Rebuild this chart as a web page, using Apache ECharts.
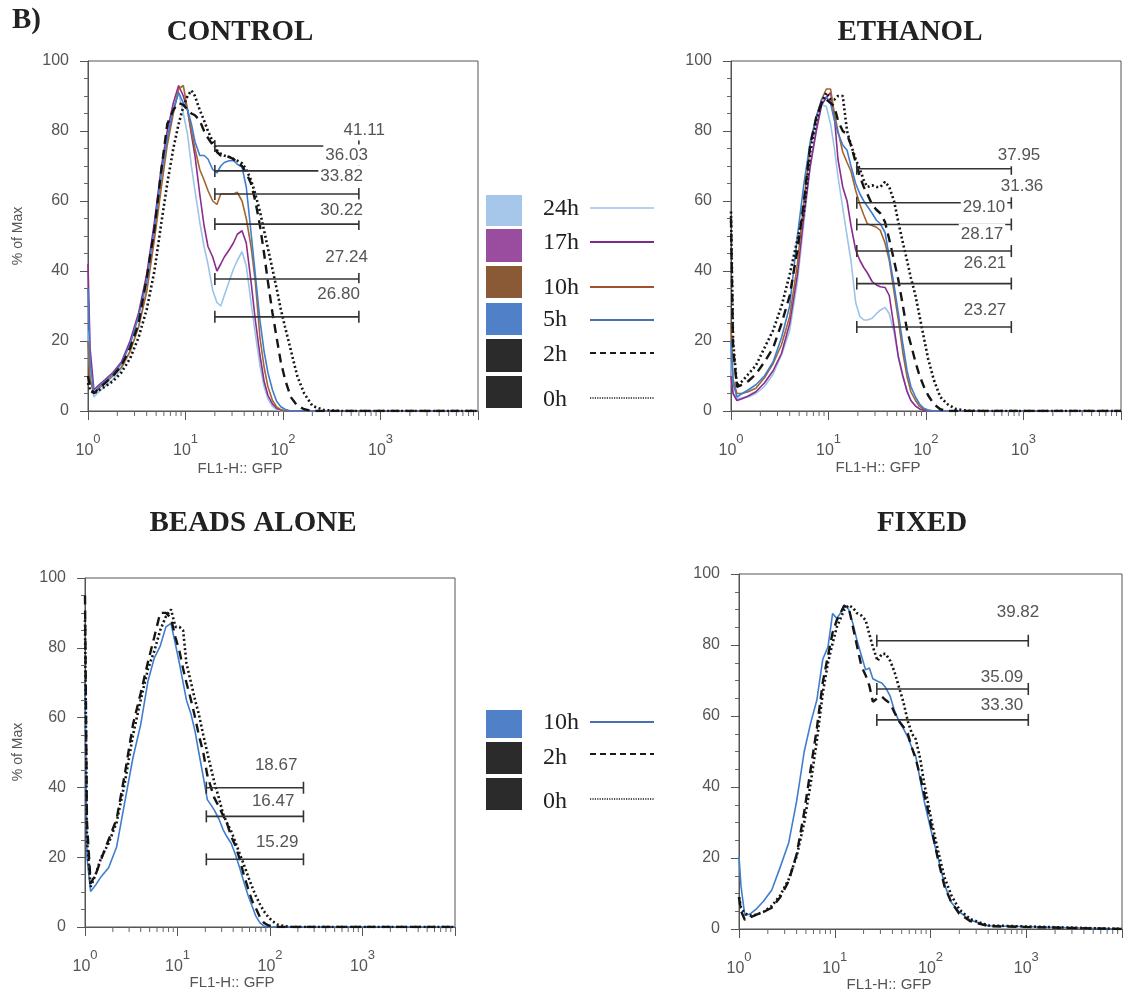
<!DOCTYPE html>
<html><head><meta charset="utf-8">
<script src="https://cdn.jsdelivr.net/npm/echarts@6/dist/echarts.min.js"></script>
<style>html,body{margin:0;padding:0;background:#fff}#c{width:1125px;height:999px}</style>
</head><body><div id="c"></div>
<script>
// ---------- DATA ----------
// Fluorescence (FL1-H: GFP) sampling positions shared by all histograms
const xGrid = [1, 1.05, 1.15, 1.3, 1.5, 1.8, 2.2, 2.7, 3.3, 4, 4.8, 5.6, 6.5, 7.5, 8.5, 9.5, 10.5, 11.5, 12.5, 14, 15.5, 17, 19, 21, 23, 25, 28, 31, 34, 38, 42, 47, 52, 58, 64, 70, 78, 86, 95, 105, 120, 140, 165, 200, 260, 400, 10000];

// CONTROL (% of Max)
const ctrl24 = [23, 10, 4, 5.5, 7, 9, 12, 17, 24, 35, 50, 65, 77, 86, 91, 85, 79, 70, 63, 54, 47, 42, 34.5, 31, 30, 33, 37, 40.5, 43, 45.5, 41.5, 31, 22, 13, 7, 3.5, 1.3, 0.4, 0, 0, 0, 0, 0, 0, 0, 0, 0];
const ctrl17 = [42, 18, 6, 7.5, 9, 11, 14, 20, 28, 39, 54, 69, 80, 88, 93, 90, 86, 79, 73, 62, 53, 47, 44, 40, 42, 44, 46, 48, 50.5, 51.5, 48, 37, 26, 16, 8.5, 4.5, 2, 0.8, 0.3, 0, 0, 0, 0, 0, 0, 0, 0];
const ctrl10 = [20, 9, 5, 6.5, 8, 10, 12.5, 17, 24, 34, 49, 63, 76, 85, 92, 93, 86, 80, 75, 69, 66, 63, 60, 59, 62, 62, 62, 62, 62.5, 60, 55, 47, 37, 21, 12.5, 7, 3, 1.2, 0.4, 0, 0, 0, 0, 0, 0, 0, 0];
const ctrl5 = [35, 14, 5, 7, 8.5, 10.5, 13.5, 19, 27, 37, 52, 67, 78, 86, 91, 88, 86, 82, 77, 73, 73, 72, 69, 68, 70, 71, 71.5, 71.6, 70.5, 69.7, 64, 51, 39, 26, 17, 11, 6, 2.8, 1.2, 0.5, 0, 0, 0, 0, 0, 0, 0];
const ctrl2 = [10, 7, 5, 6.5, 8, 10, 13, 18, 25, 38, 52, 68, 82, 86, 88, 87.5, 86, 85, 84.5, 83, 80, 78, 76, 74, 73, 72.8, 72.6, 72, 71, 70, 68, 65, 60, 53, 45, 37, 28, 21, 14, 9, 4, 1.5, 0.5, 0, 0, 0, 0];
const ctrl0 = [8, 6, 5, 6, 7, 8.5, 11, 15, 21, 29, 40, 53, 65, 75, 82, 87, 90, 91.6, 90, 86, 83, 80, 77, 74.5, 73.5, 73, 72.6, 72, 71.5, 70.8, 69, 66, 62, 57, 51.5, 46.5, 40.5, 35, 29, 24, 17.5, 10, 5, 1.5, 0.3, 0, 0];

// ETHANOL
const eth24 = [14, 5, 3.5, 3.8, 4, 5, 7, 10.5, 16, 23, 37, 54, 70, 81, 87.5, 87, 82, 75, 67, 58, 50, 43, 31, 27, 26, 26, 26.5, 27.8, 28.8, 29.6, 27.8, 22.5, 15.5, 9.5, 5.9, 3, 1.5, 0.6, 0.2, 0, 0, 0, 0, 0, 0, 0, 0];
const eth17 = [10, 5, 3, 3.5, 4.3, 5.5, 8, 11.5, 16.5, 25, 39, 56, 70, 80, 87.5, 89.5, 91, 84, 72, 64, 60, 53, 46, 43, 41, 39.5, 37, 36, 35.5, 35.3, 33, 24, 15.5, 10, 5.5, 3, 1.4, 0.6, 0.2, 0, 0, 0, 0, 0, 0, 0, 0];
const eth10 = [25, 9, 5, 5, 5.5, 6.5, 9.5, 13.5, 19, 27, 42, 60, 76, 84, 89, 92, 92, 85, 80, 74, 71, 68.5, 63, 59, 56, 53.5, 53, 52.5, 51.6, 48, 43, 34, 26, 16.5, 9.7, 5.5, 3, 1.3, 0.5, 0.2, 0, 0, 0, 0, 0, 0, 0];
const eth5 = [20, 8, 4, 5, 6, 7.5, 10, 14, 21, 30, 50, 65, 77, 84, 89, 89.7, 88, 83, 79.5, 76, 74.5, 70, 65, 62, 60, 58.5, 56.5, 54.5, 53.5, 51, 44, 36, 28, 19, 11.5, 7, 4, 2, 0.8, 0.3, 0, 0, 0, 0, 0, 0, 0];
const eth2 = [55, 18, 6.9, 7.5, 8.5, 10.5, 14, 18, 25, 33, 46, 60, 76, 84, 88, 89, 88, 87, 83, 80, 79, 76, 71, 67, 64, 62, 59, 57.5, 56.5, 54, 49, 43, 37.5, 30, 23, 19, 14, 10, 7, 4.5, 2, 0.5, 0, 0, 0, 0, 0];
const eth0 = [57, 20, 7.3, 8.5, 10.5, 13, 18, 23, 30, 39, 49, 57, 74, 83, 88, 91, 89, 89, 90, 90, 80, 76, 72, 69, 66, 64, 64.5, 64, 64, 65.5, 64, 60, 54, 48, 43, 38, 33, 27, 21, 15, 9, 4, 2, 0.6, 0.1, 0, 0];

// BEADS ALONE
const bead10 = [70, 20, 10.2, 12, 14.5, 17, 23, 36, 48.5, 58, 70.5, 77, 80.5, 86, 87, 81, 75.5, 70, 65, 61, 56, 50, 43, 36.5, 35, 33.5, 31, 28, 26, 24, 21, 17, 13, 9, 6, 3.2, 1.2, 0.3, 0, 0, 0, 0, 0, 0, 0, 0, 0];
const bead2 = [95, 30, 12.5, 15, 19.5, 25, 31, 44, 58, 67, 76, 83, 90, 90, 88.5, 83, 79, 74, 70, 65, 60, 55, 50, 43.5, 40, 37, 34.5, 32, 30, 26, 23.5, 19.5, 15, 11, 7.5, 5.5, 2.8, 1.2, 0.5, 0.2, 0, 0, 0, 0, 0, 0, 0];
const bead0 = [88, 25, 11.5, 15, 20, 24, 30, 41.5, 55, 65, 74, 79, 85, 89, 91, 86, 86, 85, 75.5, 70, 65, 61, 55, 50, 45.5, 41.5, 37, 32.5, 30, 27.5, 24.5, 21, 18, 14.5, 11.5, 9, 6.5, 4.5, 3, 1.8, 0.7, 0.3, 0, 0, 0, 0, 0];

// FIXED
const fix10 = [20.4, 12, 3.8, 4.2, 5.5, 7.8, 11, 17.5, 24.2, 36, 50, 58, 64.5, 76, 79.5, 88.9, 87.5, 89, 91.3, 90, 86, 81.5, 77, 73, 73.5, 70.5, 69.8, 69.3, 68, 65.5, 61.5, 58.5, 56.5, 54, 51, 48.8, 42, 36, 31, 26, 20, 12.5, 7.5, 4.8, 2.5, 0.9, 0];
const fix2 = [9, 5, 2.6, 3.2, 4, 4.8, 6, 9, 13.5, 21, 33, 45, 56.5, 69.5, 77, 83.5, 87, 89, 91, 90.5, 85, 80, 74, 71.5, 68.5, 64, 65, 65.5, 64.5, 63.5, 61, 58.5, 57, 55, 51, 48, 43, 38, 33, 27, 19.5, 12, 7.5, 4.3, 2.2, 0.8, 0];
const fix0 = [9, 6, 4.4, 3.8, 4, 4.8, 6.5, 9.5, 14, 20.5, 30, 41, 53, 66.5, 75, 80.5, 85, 87.5, 89.8, 91.2, 90.5, 89, 88.3, 87, 83, 79.5, 75.5, 77.5, 77.5, 75.5, 72.5, 68, 64, 58.5, 55, 53.5, 48, 41, 35, 29, 22, 14.5, 9.5, 5.5, 2.8, 1, 0];

// Gates: [from, to] on FL1-H, level in % of Max, label
const ctrlGateRange = [20, 600];
const ctrlGateLevels = [75.7, 68.6, 62, 53.4, 37.7, 26.9];
const ctrlGateLabels = ['41.11', '36.03', '33.82', '30.22', '27.24', '26.80'];
const ethGateRange = [19.5, 750];
const ethGateLevels = [69.2, 59.5, 53.3, 45.7, 36.4, 24];
const ethGateLabels = ['37.95', '31.36', '29.10', '28.17', '26.21', '23.27'];
const beadGateRange = [20.5, 230];
const beadGateLevels = [39.9, 31.7, 19.4];
const beadGateLabels = ['18.67', '16.47', '15.29'];
const fixGateRange = [27.5, 1050];
const fixGateLevels = [81.2, 67.6, 58.9];
const fixGateLabels = ['39.82', '35.09', '33.30'];

// Axis tick labels
const yTickLabels = ['0', '20', '40', '60', '80', '100'];
const xTickExponents = ['0', '1', '2', '3'];

const panelTitles = ['CONTROL', 'ETHANOL', 'BEADS ALONE', 'FIXED'];
const legend1 = ['24h', '17h', '10h', '5h', '2h', '0h'];
const legend2 = ['10h', '2h', '0h'];

// ---------- STYLE ----------
const SANS = '"Liberation Sans", Arial, sans-serif';
const SERIF = '"Liberation Serif", "Times New Roman", serif';
const C = {
  h24: '#9cc3e8', h17: '#8b2c8e', h10: '#a4652e', h5: '#3f7dcf', blk: '#151515'
};
const styles = {
  '24h': {color: C.h24, width: 1.6, type: 'solid'},
  '17h': {color: C.h17, width: 1.6, type: 'solid'},
  '10h': {color: C.h10, width: 1.6, type: 'solid'},
  '5h':  {color: C.h5,  width: 1.6, type: 'solid'},
  '10hB': {color: C.h5, width: 1.6, type: 'solid'},
  '2h':  {color: C.blk, width: 2.4, type: [9, 6]},
  '0h':  {color: C.blk, width: 2.6, type: [2, 2.6]}
};
const grids = [
  {left: 88, top: 61, width: 390, height: 350},
  {left: 731, top: 61, width: 390, height: 350},
  {left: 85, top: 578, width: 370, height: 349},
  {left: 739, top: 574, width: 391, height: 355}
];
// pixel nudges [dx, dy] of each gate label relative to the gate's right end
const ctrlLabelNudge = [[28, -16], [11, -16], [6, -18], [6, -14], [11, -22], [3, -23]];
const ethLabelNudge = [[31, -13], [34, -16], [-4, -17], [-6, -17], [-3, -20], [-3, -17]];
const beadLabelNudge = [[-4, -22], [-7, -15], [-3, -17]];
const fixLabelNudge = [[13, -28], [-3, -12], [-3, -15]];

const xMinorTicks = [];
[1, 10, 100, 1000].forEach(d => { for (let m = 2; m <= 9; m++) xMinorTicks.push(d * m); });

function xAxisFor(i) {
  return {
    type: 'log', logBase: 10, gridIndex: i, min: 1, max: 10000, interval: 1,
    axisLine: {show: true, lineStyle: {color: '#555', width: 1}},
    axisTick: {show: true, length: 9, lineStyle: {color: '#555'}},
    splitLine: {show: false},
    axisLabel: {
      margin: 22, color: '#555',
      formatter: v => {
        const e = Math.round(Math.log10(v));
        if (e > 3) return '';
        return '{b|10}{s|' + xTickExponents[e] + '}';
      },
      rich: {
        b: {fontSize: 16, fontFamily: SANS, color: '#555', lineHeight: 26, verticalAlign: 'bottom'},
        s: {fontSize: 13, fontFamily: SANS, color: '#555', lineHeight: 13, verticalAlign: 'top'}
      }
    }
  };
}
function yAxisFor(i) {
  return {
    type: 'value', gridIndex: i, min: 0, max: 100, interval: 20,
    axisLine: {show: true, lineStyle: {color: '#555', width: 1}},
    axisTick: {show: true, length: 8, lineStyle: {color: '#555'}},
    minorTick: {show: true, splitNumber: 4, length: 4, lineStyle: {color: '#666'}},
    splitLine: {show: false},
    axisLabel: {margin: 19, color: '#555', fontSize: 16, fontFamily: SANS,
      formatter: v => yTickLabels[Math.round(v / 20)]}
  };
}
function lineSeries(i, name, ys, styleKey) {
  const s = styles[styleKey || name];
  return {
    type: 'line', name: name, xAxisIndex: i, yAxisIndex: i, symbol: 'none', silent: true,
    data: xGrid.map((x, k) => [x, ys[k]]),
    lineStyle: {color: s.color, width: s.width, type: s.type, cap: 'butt'},
    z: name === '0h' || name === '2h' ? 4 : 3
  };
}
function gateSeries(i, range, levels, labels, nudge) {
  return {
    type: 'custom', xAxisIndex: i, yAxisIndex: i, clip: false, silent: true, z: 8,
    data: levels.map(l => [range[0], range[1], l]),
    encode: {x: [0, 1], y: 2},
    renderItem: (params, api) => {
      const y = api.value(2);
      const a = api.coord([api.value(0), y]);
      const b = api.coord([api.value(1), y]);
      const n = nudge[params.dataIndex];
      const st = {stroke: '#333', lineWidth: 1.6};
      return {type: 'group', children: [
        {type: 'line', shape: {x1: a[0], y1: a[1], x2: b[0], y2: b[1]}, style: st},
        {type: 'line', shape: {x1: a[0], y1: a[1] - 6, x2: a[0], y2: a[1] + 6}, style: st},
        {type: 'line', shape: {x1: b[0], y1: b[1] - 6, x2: b[0], y2: b[1] + 6}, style: st},
        {type: 'text', x: b[0] + n[0], y: b[1] + n[1], style: {
          text: labels[params.dataIndex], fill: '#555', font: '17px ' + SANS,
          align: 'right', verticalAlign: 'middle', backgroundColor: '#fff', padding: [2, 2]}}
      ]};
    }
  };
}
function minorTickSeries(i) {
  return {
    type: 'custom', xAxisIndex: i, yAxisIndex: i, clip: false, silent: true, z: 1,
    data: xMinorTicks.map(v => [v, 0]), encode: {x: 0, y: 1},
    renderItem: (params, api) => {
      const c = api.coord([api.value(0), 0]);
      return {type: 'line', shape: {x1: c[0], y1: c[1], x2: c[0], y2: c[1] + 5},
        style: {stroke: '#666', lineWidth: 1}};
    }
  };
}

const series = [
  lineSeries(0, '24h', ctrl24), lineSeries(0, '17h', ctrl17), lineSeries(0, '10h', ctrl10),
  lineSeries(0, '5h', ctrl5), lineSeries(0, '2h', ctrl2), lineSeries(0, '0h', ctrl0),
  lineSeries(1, '24h', eth24), lineSeries(1, '17h', eth17), lineSeries(1, '10h', eth10),
  lineSeries(1, '5h', eth5), lineSeries(1, '2h', eth2), lineSeries(1, '0h', eth0),
  lineSeries(2, '10h', bead10, '10hB'), lineSeries(2, '2h', bead2), lineSeries(2, '0h', bead0),
  lineSeries(3, '10h', fix10, '10hB'), lineSeries(3, '2h', fix2), lineSeries(3, '0h', fix0),
  gateSeries(0, ctrlGateRange, ctrlGateLevels, ctrlGateLabels, ctrlLabelNudge),
  gateSeries(1, ethGateRange, ethGateLevels, ethGateLabels, ethLabelNudge),
  gateSeries(2, beadGateRange, beadGateLevels, beadGateLabels, beadLabelNudge),
  gateSeries(3, fixGateRange, fixGateLevels, fixGateLabels, fixLabelNudge),
  minorTickSeries(0), minorTickSeries(1), minorTickSeries(2), minorTickSeries(3)
];

// ---------- GRAPHICS (titles, axis names, legends) ----------
const g = [];
function txt(x, y, text, font, fill, align, rot) {
  const e = {type: 'text', x: x, y: y, style: {text: text, font: font, fill: fill,
    align: align || 'center', verticalAlign: 'middle'}};
  if (rot) e.rotation = rot;
  g.push(e);
}
txt(12, 21, 'B)', 'bold 29px ' + SERIF, '#222', 'left');
const titlePos = [[240, 33], [910, 33], [253, 524], [922, 524]];
panelTitles.forEach((t, i) => txt(titlePos[i][0], titlePos[i][1], t, 'bold 29px ' + SERIF, '#222'));
const xNamePos = [[240, 469], [878, 468], [232, 983], [889, 985]];
xNamePos.forEach(p => txt(p[0], p[1], 'FL1-H:: GFP', '15px ' + SANS, '#555'));
[[18, 236], [18, 752]].forEach(p => txt(p[0], p[1], '% of Max', '14px ' + SANS, '#555', 'center', Math.PI / 2));

const swatchTop = {'24h': '#a6c7ea', '17h': '#9a4c9f', '10h': '#8a5a37', '5h': '#4f80c8', '2h': '#2b2b2b', '0h': '#2b2b2b'};
const sampleTop = {'24h': ['#b3d2ef', 2, null], '17h': ['#7d2a88', 2.2, null], '10h': ['#a0522d', 2, null],
  '5h': ['#4a6fb5', 2, null], '2h': ['#1a1a1a', 2, [6, 4]], '0h': ['#1a1a1a', 1.4, [1.2, 1.2]]};
const swatchBottom = {'10h': '#4f80c8', '2h': '#2b2b2b', '0h': '#2b2b2b'};
const sampleBottom = {'10h': ['#4a6fb5', 2, null], '2h': ['#1a1a1a', 2, [6, 4]], '0h': ['#1a1a1a', 1.4, [1.2, 1.2]]};
function legendRow(name, sw, sm, swTop, swH, labelY, lineY) {
  g.push({type: 'rect', shape: {x: 486, y: swTop, width: 36, height: swH}, style: {fill: sw[name]}});
  txt(543, labelY, name, '24px ' + SERIF, '#222', 'left');
  const s = sm[name];
  const st = {stroke: s[0], lineWidth: s[1]};
  if (s[2]) st.lineDash = s[2];
  g.push({type: 'line', shape: {x1: 590, y1: lineY, x2: 654, y2: lineY}, style: st});
}
const leg1Layout = [[195, 31, 209, 208], [229, 33, 243, 242], [266, 32, 288, 287], [303, 32, 320, 320], [339, 33, 355, 353], [376, 32, 400, 398]];
legend1.forEach((n, i) => legendRow(n, swatchTop, sampleTop, leg1Layout[i][0], leg1Layout[i][1], leg1Layout[i][2], leg1Layout[i][3]));
const leg2Layout = [[710, 28, 723, 722], [742, 32, 758, 754], [778, 32, 802, 799]];
legend2.forEach((n, i) => legendRow(n, swatchBottom, sampleBottom, leg2Layout[i][0], leg2Layout[i][1], leg2Layout[i][2], leg2Layout[i][3]));

const chart = echarts.init(document.getElementById('c'), null, {renderer: 'canvas'});
chart.setOption({
  backgroundColor: '#fff',
  animation: false,
  grid: grids.map(gr => Object.assign({show: true, borderColor: '#555', borderWidth: 1, backgroundColor: 'transparent'}, gr)),
  xAxis: [0, 1, 2, 3].map(xAxisFor),
  yAxis: [0, 1, 2, 3].map(yAxisFor),
  series: series,
  graphic: {elements: g}
});
</script></body></html>
